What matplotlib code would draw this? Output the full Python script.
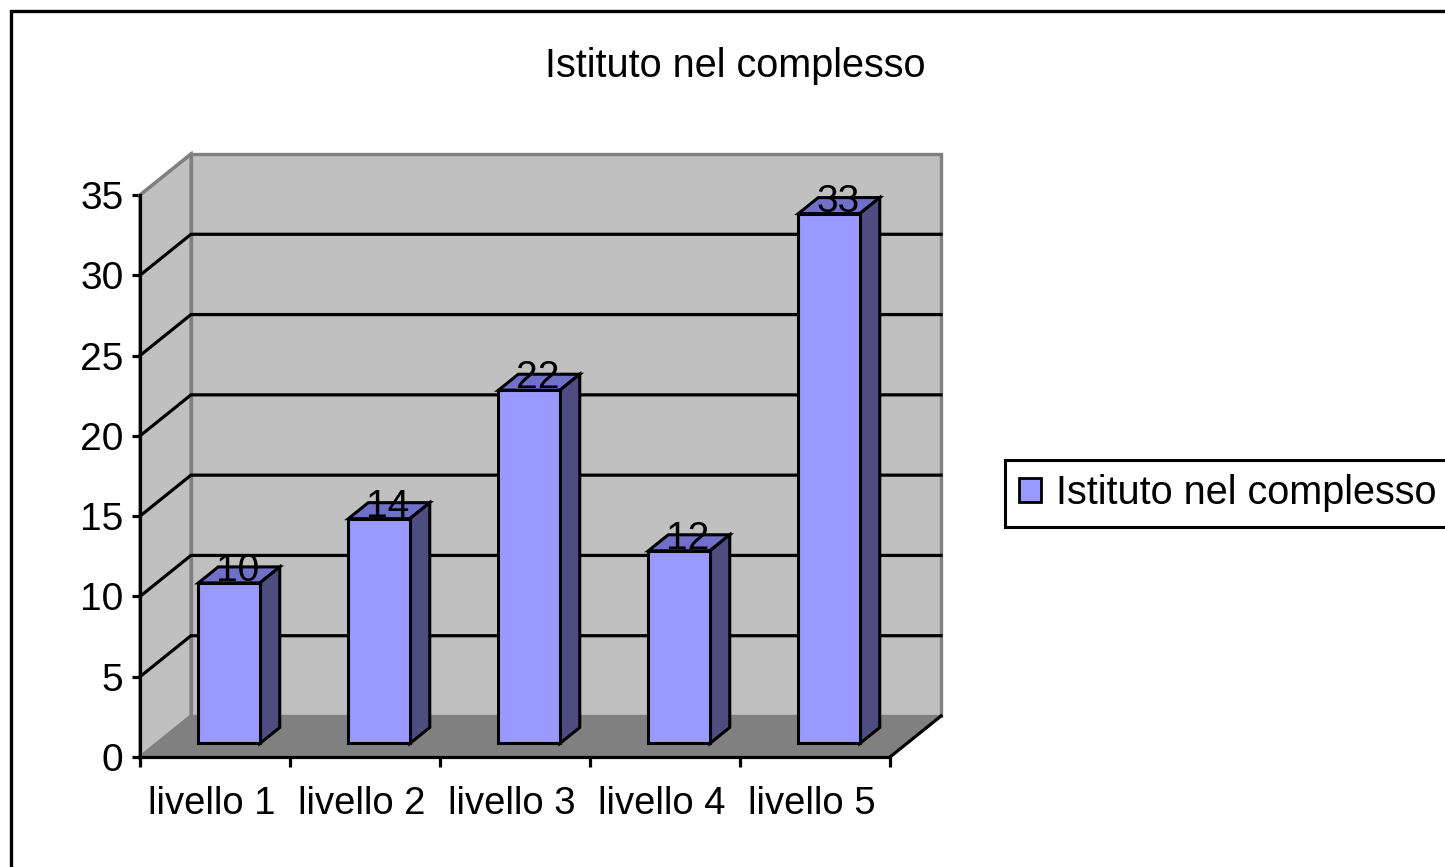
import matplotlib
matplotlib.use('Agg')
import matplotlib.pyplot as plt
from matplotlib.patches import Patch, Rectangle

categories = ['livello 1', 'livello 2', 'livello 3', 'livello 4', 'livello 5']
values = [10, 14, 22, 12, 33]
series_name = 'Istituto nel complesso'
yticks = [0, 5, 10, 15, 20, 25, 30, 35]

W, H = 1445, 867
plt.rcParams['font.family'] = ['Liberation Sans', 'DejaVu Sans']

fig = plt.figure(figsize=(W / 100, H / 100), dpi=100)
ax = fig.add_axes([140 / W, 1 - 757 / H, 750 / W, 562 / H])
ax.set_xlim(0, 5)
ax.set_ylim(0, 35)
ax.patch.set_visible(False)

# depth of the fake 3d box, in data units
depth_x = 51 / 150
depth_y = 41 / (562 / 35)


def pt(x, y, f):
    return x + f * depth_x, y + f * depth_y


def poly(points, color, edge='none', lw=0, z=1):
    xs = [p[0] for p in points]
    ys = [p[1] for p in points]
    ax.fill(xs, ys, facecolor=color, edgecolor=edge, linewidth=lw, zorder=z,
            clip_on=False, joinstyle='miter')


# walls and floor
poly([pt(0, 0, 1), pt(5, 0, 1), pt(5, 35, 1), pt(0, 35, 1)], '#c0c0c0', '#808080', 2.4, 1)
poly([pt(0, 0, 0), pt(0, 0, 1), pt(0, 35, 1), pt(0, 35, 0)], '#c0c0c0', '#808080', 2.4, 1)
poly([pt(0, 0, 0), pt(5, 0, 0), pt(5, 0, 1), pt(0, 0, 1)], '#808080', '#808080', 1, 1.5)

# gridlines
for v in yticks[1:-1]:
    a, b, c = pt(0, v, 0), pt(0, v, 1), pt(5, v, 1)
    ax.plot([a[0], b[0], c[0]], [a[1], b[1], c[1]], color='black', lw=2.3, zorder=2,
            clip_on=False, solid_joinstyle='miter')
a, b = pt(0, 35, 0), pt(0, 35, 1)
ax.plot([a[0], b[0]], [a[1], b[1]], color='#808080', lw=2.3, zorder=2, clip_on=False)
c, d = pt(5, 0, 0), pt(5, 0, 1)
ax.plot([c[0], d[0]], [c[1], d[1]], color='black', lw=2.3, zorder=2, clip_on=False)

# bars
bar_w = 0.41
f0, f1 = 0.33, 0.72
shift = -0.018
for i, v in enumerate(values):
    l = i + 0.5 + shift - bar_w / 2
    r = i + 0.5 + shift + bar_w / 2
    poly([pt(l, v, f0), pt(r, v, f0), pt(r, v, f1), pt(l, v, f1)], '#7070c8', 'black', 2.2, 3)
    poly([pt(r, 0, f0), pt(r, 0, f1), pt(r, v, f1), pt(r, v, f0)], '#4d4d80', 'black', 2.2, 3)
    poly([pt(l, 0, f0), pt(r, 0, f0), pt(r, v, f0), pt(l, v, f0)], '#9999ff', 'black', 2.2, 3.1)
    tx, ty = pt(i + 0.5 + shift - 0.04, v, 0.62)
    ax.text(tx, ty, str(v), ha='center', va='center', fontsize=28, color='black', zorder=5)

# axes
for s in ['top', 'right']:
    ax.spines[s].set_visible(False)
for s in ['left', 'bottom']:
    ax.spines[s].set_linewidth(2.3)
    ax.spines[s].set_zorder(4)
ax.set_yticks(yticks)
ax.set_xticks(range(6))
ax.set_xticklabels([])
ax.set_xticks([i + 0.48 for i in range(5)], labels=categories, minor=True)
ax.tick_params(axis='y', length=6, width=2.3, labelsize=28, pad=6)
ax.tick_params(axis='x', which='major', length=7, width=2.3)
ax.tick_params(axis='x', which='minor', length=0, labelsize=27.5, pad=21)

fig.text(735 / W, 1 - 66 / H, series_name, ha='center', va='center', fontsize=28.5)

# outer frame runs off the right and bottom of the picture
fig.add_artist(Rectangle((11 / W, -0.02), 1.1, 1 - 11 / H + 0.02, transform=fig.transFigure,
                         fill=False, edgecolor='black', linewidth=2.4, clip_on=False))

leg = fig.legend(handles=[Patch(facecolor='#9999ff', edgecolor='black', linewidth=2, label=series_name)],
                 loc='upper left', bbox_to_anchor=(1005 / W, 1 - 460 / H), fontsize=28.5,
                 fancybox=False, framealpha=1, edgecolor='black', handlelength=0.56, handleheight=0.56,
                 handletextpad=0.36, borderpad=0.36, borderaxespad=0)
leg.get_frame().set_linewidth(2.2)

fig.savefig('out.png', dpi=100)
